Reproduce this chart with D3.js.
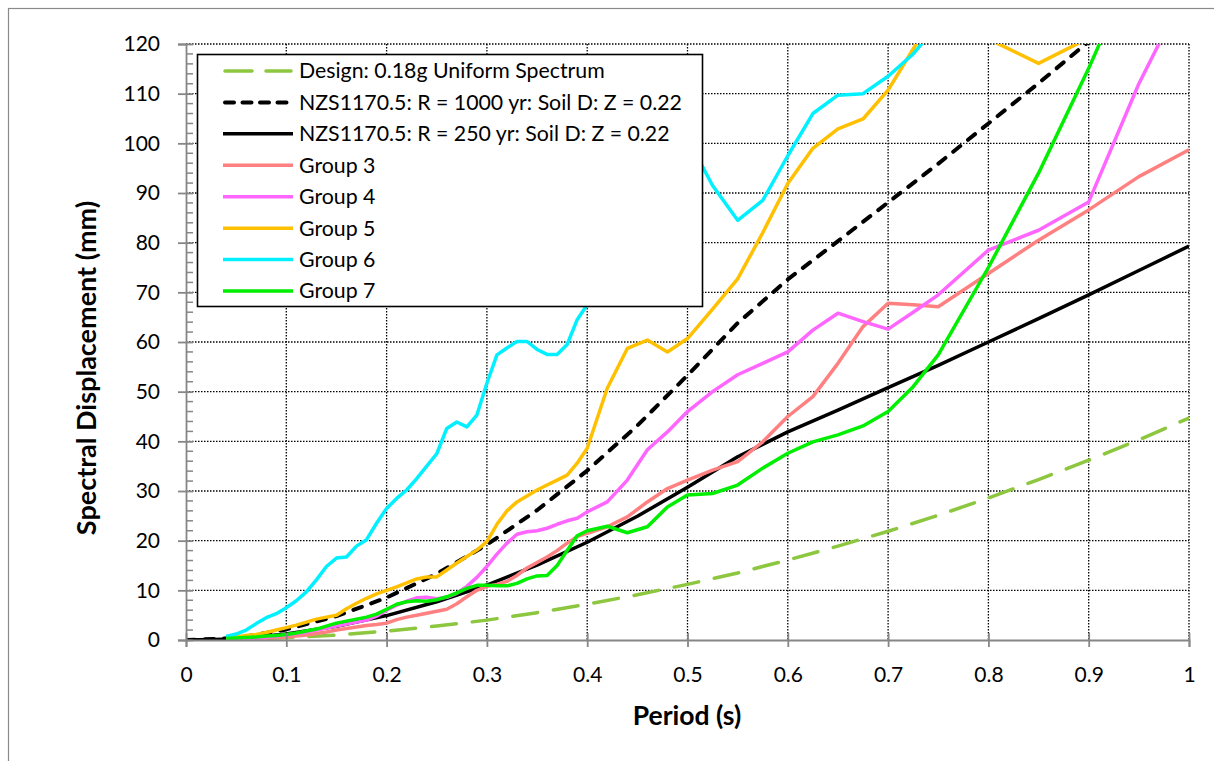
<!DOCTYPE html>
<html>
<head>
<meta charset="utf-8">
<script src="https://cdn.jsdelivr.net/npm/d3@7"></script>
<style>
  html, body { margin: 0; padding: 0; background: #fff; }
  svg { display: block; }
  text { font-family: Lato, "Open Sans", sans-serif; fill: #000; }
</style>
</head>
<body>
<svg id="chart" width="1214" height="761"></svg>
<script>
// ---------------- data ----------------
const periods = [0.04,0.05,0.06,0.07,0.08,0.09,0.10,0.11,0.12,0.13,
  0.14,0.15,0.16,0.17,0.18,0.19,0.20,0.21,0.22,0.23,
  0.24,0.25,0.26,0.27,0.28,0.29,0.30,0.31,0.32,0.33,
  0.34,0.35,0.36,0.37,0.38,0.39,0.40,
  0.42,0.44,0.46,0.48,0.50,
  0.525,0.55,0.575,0.60,0.625,0.65,0.675,0.70,0.725,0.75,
  0.80,0.85,0.90,0.95,1.00];

const group3 = [0.1,0.15,0.2,0.3,0.4,0.5,0.6,0.8,1.0,1.3,
  1.6,2.0,2.3,2.6,2.9,3.1,3.4,4.1,4.6,5.0,
  5.4,5.8,6.2,7.3,8.7,10.0,10.8,11.2,11.8,13.0,
  14.5,15.6,16.7,18.0,19.5,20.8,21.5,
  22.8,24.8,27.8,30.5,32.2,
  34.2,35.9,39.9,45.0,49.0,55.7,63.1,67.8,67.5,67.1,
  73.8,80.5,86.6,93.3,98.7];

const group4 = [0.15,0.2,0.3,0.4,0.6,0.8,1.0,1.3,1.6,2.0,
  2.4,2.8,3.2,3.6,4.0,4.8,6.0,7.0,7.8,8.5,
  8.6,8.3,8.6,9.4,10.8,12.6,14.8,17.3,19.5,21.3,
  21.8,22.0,22.5,23.3,24.0,24.5,25.8,
  27.8,32.2,38.3,41.9,46.0,
  50.0,53.4,55.7,58.0,62.4,65.8,64.1,62.6,66.0,69.5,
  78.5,82.5,88.2,112.0,132.0];

const group5 = [0.3,0.6,0.9,1.1,1.5,2.0,2.5,3.0,3.6,4.2,
  4.6,5.0,6.3,7.4,8.4,9.3,10.0,10.7,11.5,12.3,
  12.7,12.7,14.1,15.5,16.8,18.1,19.8,23.3,26.0,27.8,
  29.0,30.2,31.2,32.2,33.2,35.6,38.6,
  50.7,58.7,60.4,58.0,60.7,
  66.6,72.7,82.0,91.9,99.0,102.9,104.9,110.7,119.0,127.0,
  121.0,116.1,121.2,130.0,135.0];

const group6 = [0.7,1.2,2.0,3.3,4.5,5.3,6.5,7.9,9.7,12.1,
  14.8,16.5,16.7,18.9,20.2,23.5,26.5,28.5,30.2,32.5,
  35.0,37.5,42.6,43.9,42.9,45.3,51.7,57.4,58.8,60.1,
  60.1,58.5,57.5,57.5,59.5,64.5,67.5,
  74.0,82.0,90.0,96.0,101.0,
  91.5,84.5,88.5,97.5,106.0,109.7,110.0,113.5,118.0,124.0,
  135.0,145.0,150.0,155.0,160.0];

const group7 = [0.3,0.4,0.5,0.6,0.8,0.9,1.1,1.4,1.8,2.2,
  2.8,3.4,3.8,4.2,4.6,5.2,6.2,7.2,7.7,7.9,
  7.8,8.1,8.7,9.5,10.4,11.0,11.0,10.9,10.9,11.4,
  12.3,12.9,13.0,15.0,18.0,21.0,22.0,
  22.9,21.6,22.8,26.8,29.2,
  29.5,31.2,34.6,37.6,39.9,41.3,43.1,46.0,51.0,57.4,
  75.0,94.0,115.1,138.0,160.0];

const codePeriods = [0,0.05,0.10,0.15,0.20,0.25,0.30,0.35,0.40,0.45,0.50,0.55,
  0.60,0.65,0.70,0.75,0.80,0.85,0.90,0.95,1.00];
const designSd = [0,0.11,0.45,1.0,1.8,2.8,4.0,5.5,7.2,9.1,11.2,13.5,
  16.1,18.9,21.9,25.1,28.6,32.3,36.2,40.3,44.7];
const nzs1000 = [0,0.37,2.13,4.80,8.53,13.33,19.19,26.12,34.11,43.17,53.30,63.8,
  72.6,80.3,88.1,95.9,104.0,112.1,120.5,129.0,137.3];
const nzs250 = [0,0.21,1.23,2.77,4.92,7.69,11.07,15.07,19.68,24.91,30.75,36.9,
  41.9,46.3,50.8,55.3,60.0,64.7,69.5,74.4,79.3];

const seriesNames = ["Design: 0.18g Uniform Spectrum",
  "NZS1170.5: R = 1000 yr: Soil D: Z = 0.22",
  "NZS1170.5: R = 250 yr: Soil D: Z = 0.22",
  "Group 3","Group 4","Group 5","Group 6","Group 7"];
const seriesColors = ["#8DC63F","#000000","#000000","#FF8080","#FF66FF","#FFC000","#00F0FF","#00EE00"];

const xTicks = [0,0.1,0.2,0.3,0.4,0.5,0.6,0.7,0.8,0.9,1];
const xTickLabels = ["0","0.1","0.2","0.3","0.4","0.5","0.6","0.7","0.8","0.9","1"];
const yTicks = [0,10,20,30,40,50,60,70,80,90,100,110,120];
const yTickLabels = ["0","10","20","30","40","50","60","70","80","90","100","110","120"];
const xTitle = "Period (s)";
const yTitle = "Spectral Displacement (mm)";

// ---------------- build ----------------
const series = [
  {name: seriesNames[0], xs: codePeriods, ys: designSd, color: seriesColors[0], dash: "25,16", cap: "round", w: 3.5},
  {name: seriesNames[1], xs: codePeriods, ys: nzs1000, color: seriesColors[1], dash: "9,10", cap: "round", w: 4},
  {name: seriesNames[2], xs: codePeriods, ys: nzs250, color: seriesColors[2], dash: null, cap: "butt", w: 3.5},
  {name: seriesNames[3], xs: periods, ys: group3, color: seriesColors[3], dash: null, cap: "butt", w: 3.5},
  {name: seriesNames[4], xs: periods, ys: group4, color: seriesColors[4], dash: null, cap: "butt", w: 3.5},
  {name: seriesNames[5], xs: periods, ys: group5, color: seriesColors[5], dash: null, cap: "butt", w: 3.5},
  {name: seriesNames[6], xs: periods, ys: group6, color: seriesColors[6], dash: null, cap: "butt", w: 3.5},
  {name: seriesNames[7], xs: periods, ys: group7, color: seriesColors[7], dash: null, cap: "butt", w: 3.5}
];

const svg = d3.select("#chart");
const L = 186, R = 1189, T = 44, B = 640;
const x = d3.scaleLinear().domain([0, 1]).range([L, R]);
const y = d3.scaleLinear().domain([0, 120]).range([B, T]);
const axisGrey = "#868686";

// outer frame
svg.append("rect").attr("x", 8.5).attr("y", 8.5).attr("width", 1220).attr("height", 770)
  .attr("fill", "none").attr("stroke", "#8a8a8a").attr("stroke-width", 1.2);

// gridlines
const grid = svg.append("g");
grid.selectAll("line.gx").data(xTicks.filter(d => d > 0)).join("line")
  .attr("x1", d => x(d)).attr("x2", d => x(d)).attr("y1", T).attr("y2", B)
  .attr("stroke", "#000").attr("stroke-width", 1.3).attr("stroke-dasharray", "1.5,1.5");
grid.selectAll("line.gy").data(yTicks.filter(d => d > 0)).join("line")
  .attr("x1", L).attr("x2", R).attr("y1", d => y(d)).attr("y2", d => y(d))
  .attr("stroke", "#000").attr("stroke-width", 1.3).attr("stroke-dasharray", "1.5,1.5");

// clip
svg.append("clipPath").attr("id", "plotclip").append("rect")
  .attr("x", L).attr("y", T).attr("width", R - L).attr("height", B - T);

const line = d3.line().x(d => x(d[0])).y(d => y(d[1]));
const lines = svg.append("g").attr("clip-path", "url(#plotclip)");
series.forEach(s => {
  const pts = s.xs.map((v, i) => [v, s.ys[i]]);
  lines.append("path").datum(pts).attr("d", line)
    .attr("fill", "none").attr("stroke", s.color).attr("stroke-width", s.w)
    .attr("stroke-linejoin", "round").attr("stroke-linecap", s.cap)
    .attr("stroke-dasharray", s.dash);
});

// x axis
const xAxis = d3.axisBottom(x).tickValues(xTicks).tickFormat((d, i) => xTickLabels[i]).tickSize(7).tickPadding(20);
const gx = svg.append("g").attr("transform", `translate(0,${B})`).call(xAxis);
gx.select(".domain").attr("stroke", axisGrey).attr("stroke-width", 1.8);
gx.selectAll(".tick line").attr("stroke", axisGrey).attr("stroke-width", 1.8).attr("y1", -7).attr("y2", 7);
gx.selectAll(".tick text").attr("font-size", 21).attr("font-family", "Lato, sans-serif");

// y axis minor ticks
const minor = d3.range(0, 121, 2).filter(v => v % 10 !== 0);
svg.append("g").selectAll("line").data(minor).join("line")
  .attr("x1", L).attr("x2", L + 7).attr("y1", d => y(d)).attr("y2", d => y(d))
  .attr("stroke", axisGrey).attr("stroke-width", 1.5);

const yAxis = d3.axisLeft(y).tickValues(yTicks).tickFormat((d, i) => yTickLabels[i]).tickSize(8).tickPadding(18);
const gy = svg.append("g").attr("transform", `translate(${L},0)`).call(yAxis);
gy.select(".domain").attr("stroke", axisGrey).attr("stroke-width", 1.8);
gy.selectAll(".tick line").attr("stroke", axisGrey).attr("stroke-width", 1.8).attr("x1", -8).attr("x2", 7);
gy.selectAll(".tick text").attr("font-size", 21).attr("font-family", "Lato, sans-serif");

// axis titles
svg.append("text").attr("x", 687).attr("y", 725).attr("text-anchor", "middle")
  .attr("font-size", 26.5).attr("font-weight", "bold").text(xTitle);
svg.append("text").attr("transform", `translate(96,${(T + B) / 2 + 26}) rotate(-90)`).attr("text-anchor", "middle")
  .attr("font-size", 27).attr("font-weight", "bold").text(yTitle);

// legend
const lg = svg.append("g");
lg.append("rect").attr("x", 197.5).attr("y", 54.5).attr("width", 505).attr("height", 252)
  .attr("fill", "#fff").attr("stroke", "#000").attr("stroke-width", 1.6);
const rowY = d3.scaleLinear().domain([0, 7]).range([71, 291]);
series.forEach((s, i) => {
  const yy = rowY(i);
  lg.append("line").attr("x1", s.dash ? 225 : 223).attr("x2", s.dash ? 291 : 293).attr("y1", yy).attr("y2", yy)
    .attr("stroke", s.color).attr("stroke-width", s.w).attr("stroke-linecap", s.cap)
    .attr("stroke-dasharray", i === 0 ? "27,14" : (i === 1 ? "9,8.5" : null));
  lg.append("text").attr("x", 299).attr("y", yy).attr("dy", "0.35em")
    .attr("font-size", 21.3).text(s.name);
});
</script>
</body>
</html>
